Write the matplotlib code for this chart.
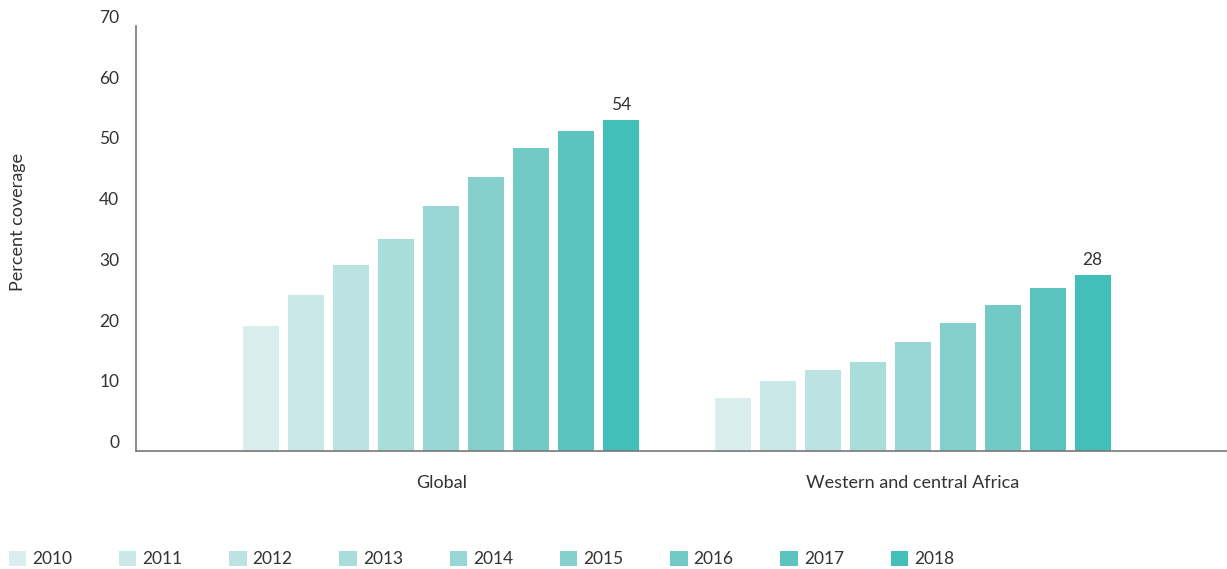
import matplotlib
matplotlib.use("Agg")
import matplotlib.pyplot as plt
import numpy as np

categories = ["Global", "Western and central Africa"]
years = ["2010", "2011", "2012", "2013", "2014", "2015", "2016", "2017", "2018"]
global_vals = [20.6, 25.7, 30.7, 34.9, 40.4, 45.1, 49.9, 52.7, 54.5]
africa_vals = [8.8, 11.6, 13.3, 14.7, 18.0, 21.1, 24.1, 26.9, 29.0]
colors = ["#d9eeed", "#c9e8e7", "#bbe3e2", "#a9ddda", "#97d6d4",
          "#85d0cc", "#71cac6", "#5cc4bf", "#42bfb8"]
annot = ["54", "28"]

plt.rcParams['font.family'] = ['Lato', 'DejaVu Sans']
txt = "#333333"

fig = plt.figure(figsize=(12.27, 5.69), dpi=100)
ax = fig.add_axes([136/1227, 1-451/569, (1227-136)/1227, (451-26)/569])

n = len(years)
step = 0.0955
width = 0.0764
x = np.arange(len(categories))
handles = []
for i, yr in enumerate(years):
    vals = [global_vals[i], africa_vals[i]]
    b = ax.bar(x + (i - (n-1)/2) * step, vals, width, color=colors[i], label=yr, zorder=2)
    handles.append(b)
for j in range(len(categories)):
    v = [global_vals, africa_vals][j][-1]
    ax.text(x[j] + (n-1)/2*step, v + 1.2, annot[j], ha="center", va="bottom", fontsize=12.5, color=txt)

ax.set_ylim(0, 70)
ax.set_xlim(-0.648, 1.667)
ax.set_yticks(range(0, 71, 10))
ax.set_xticks(x)
ax.set_xticklabels(categories)
ax.tick_params(axis="both", length=0, colors=txt)
ax.tick_params(axis="x", pad=17, labelsize=13)
ax.tick_params(axis="y", pad=12, labelsize=12.5)
for lab in ax.get_yticklabels():
    lab.set_verticalalignment("bottom")
for s in ["top", "right"]:
    ax.spines[s].set_visible(False)
for s in ["left", "bottom"]:
    ax.spines[s].set_color("#777777")
    ax.spines[s].set_linewidth(1.2)
fig.text(18/1227, 1-222/569, "Percent coverage", rotation=90, ha="center", va="center", fontsize=13, color=txt)

leg = fig.legend(handles=handles, labels=years, loc="center left", bbox_to_anchor=(2/1227, 10/569),
                 ncol=9, frameon=False, fontsize=12.5, handlelength=1.0, handleheight=1.0,
                 handletextpad=0.35, columnspacing=2.69, labelcolor=txt, borderaxespad=0.0)

fig.savefig("out.png", dpi=100)
